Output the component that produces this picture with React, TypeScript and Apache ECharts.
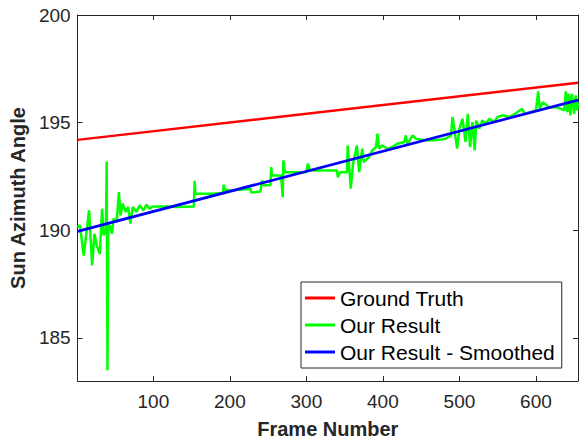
import React, { useEffect, useRef } from "react";
import * as echarts from "echarts";

const xTicks = [100, 200, 300, 400, 500, 600];
const yTicks = [185, 190, 195, 200];

const truthFrames = [1, 655];
const truthAngles = [194.2, 196.85];

const smoothFrames = [1, 655];
const smoothAngles = [189.95, 196.05];

const resultFrames = [
  1, 4, 9, 16, 20, 23, 26, 30, 33, 35, 38, 39, 40, 41, 43, 46, 48, 52, 55, 57, 60, 64, 67, 70, 73, 78, 82, 87, 91, 95,
  100, 117, 131, 153, 154, 155, 179, 191, 192, 193, 201, 227, 228, 240, 242, 244, 253, 254, 255, 267, 269, 270, 272,
  300, 302, 305, 340, 341, 344, 353, 354, 358, 361, 366, 369, 373, 375, 382, 386, 391, 393, 395, 399, 406, 412, 419,
  428, 430, 432, 439, 443, 454, 467, 476, 482, 489, 491, 494, 497, 500, 504, 508, 511, 514, 517, 520, 522, 526, 530,
  535, 539, 545, 550, 556, 565, 571, 582, 585, 593, 600, 603, 605, 609, 617, 626, 632, 637, 639, 641, 643, 645, 647,
  650, 652, 654, 655,
];
const resultAngles = [
  190.15, 190.23, 188.83, 190.93, 188.37, 189.84, 189.3, 188.9, 191.0, 189.76, 190.07, 193.2, 183.5, 190.2, 190.23,
  189.84, 190.54, 190.38, 191.78, 190.69, 191.24, 190.85, 191.08, 190.31, 191.08, 190.85, 191.16, 190.92, 191.19,
  191.0, 191.11, 191.11, 191.08, 191.1, 192.3, 191.7, 191.7, 191.75, 192.12, 191.89, 191.85, 191.93, 191.75, 191.8,
  192.32, 192.09, 192.09, 192.94, 192.55, 192.55, 191.54, 193.25, 192.7, 192.7, 193.09, 192.78, 192.78, 192.47,
  192.7, 192.7, 193.94, 191.93, 193.09, 193.94, 192.7, 193.79, 193.17, 193.4, 193.71, 193.86, 194.49, 193.79,
  193.94, 193.79, 193.86, 194.02, 194.1, 194.41, 194.02, 194.41, 194.25, 194.18, 194.18, 194.22, 194.25, 194.41,
  195.26, 194.56, 193.79, 194.72, 195.18, 194.1, 195.41, 193.86, 195.03, 193.71, 195.1, 194.72, 195.1, 194.95,
  195.18, 195.03, 195.26, 195.34, 195.26, 195.37, 195.65, 195.41, 195.49, 195.57, 196.45, 195.65, 195.95, 195.72,
  195.72, 195.65, 195.57, 196.45, 195.49, 196.34, 195.34, 196.34, 195.41, 196.27, 195.57, 195.95,
];

const zip = (xs: number[], ys: number[]) => xs.map((x, i) => [x, ys[i]]);

const AXIS_COLOR = "#262626";
const FONT = "'Liberation Sans', Arial, Helvetica, sans-serif";

export default function App() {
  const ref = useRef<HTMLDivElement>(null);
  useEffect(() => {
    if (!ref.current) return;
    const chart = echarts.init(ref.current, undefined, { renderer: "svg" });
    const axisLine = { show: true, onZero: false, lineStyle: { color: AXIS_COLOR, width: 1 } };
    const xBase = {
      type: "value" as const,
      min: 1,
      max: 655,
      splitLine: { show: false },
      axisLine,
    };
    const yBase = {
      type: "value" as const,
      min: 183,
      max: 200,
      splitLine: { show: false },
      axisLine,
    };
    chart.setOption({
      animation: false,
      backgroundColor: "#ffffff",
      textStyle: { fontFamily: FONT },
      grid: { left: 77, right: 2, top: 15, bottom: 65, containLabel: false },
      xAxis: [
        {
          ...xBase,
          position: "bottom",
          name: "Frame Number",
          nameLocation: "middle",
          nameGap: 38,
          nameTextStyle: { fontFamily: FONT, fontSize: 20, fontWeight: "bold", color: AXIS_COLOR },
          axisTick: { show: true, inside: true, length: 5, customValues: xTicks, lineStyle: { color: AXIS_COLOR } },
          axisLabel: { show: true, customValues: xTicks, margin: 11, fontFamily: FONT, fontSize: 19, color: AXIS_COLOR },
        },
        {
          ...xBase,
          position: "top",
          axisTick: { show: true, inside: true, length: 5, customValues: xTicks, lineStyle: { color: AXIS_COLOR } },
          axisLabel: { show: false },
        },
      ],
      yAxis: [
        {
          ...yBase,
          position: "left",
          name: "Sun Azimuth Angle",
          nameLocation: "middle",
          nameGap: 46,
          nameTextStyle: { fontFamily: FONT, fontSize: 20, fontWeight: "bold", color: AXIS_COLOR },
          axisTick: { show: true, inside: true, length: 5, customValues: yTicks, lineStyle: { color: AXIS_COLOR } },
          axisLabel: { show: true, customValues: yTicks, margin: 7, fontFamily: FONT, fontSize: 19, color: AXIS_COLOR },
        },
        {
          ...yBase,
          position: "right",
          axisTick: { show: true, inside: true, length: 5, customValues: yTicks, lineStyle: { color: AXIS_COLOR } },
          axisLabel: { show: false },
        },
      ],
      legend: {
        orient: "vertical",
        left: 301,
        top: 282,
        padding: [5, 7, 5, 4],
        itemGap: 5,
        itemWidth: 30,
        itemHeight: 3,
        icon: "rect",
        backgroundColor: "#ffffff",
        borderColor: AXIS_COLOR,
        borderWidth: 1,
        borderRadius: 0,
        textStyle: { fontFamily: FONT, fontSize: 21, color: "#000000", lineHeight: 22 },
        data: ["Ground Truth", "Our Result", "Our Result - Smoothed"],
      },
      series: [
        {
          name: "Ground Truth",
          type: "line",
          xAxisIndex: 0,
          yAxisIndex: 0,
          symbol: "none",
          itemStyle: { color: "#ff0000" },
          lineStyle: { color: "#ff0000", width: 2.5 },
          data: zip(truthFrames, truthAngles),
        },
        {
          name: "Our Result",
          type: "line",
          xAxisIndex: 0,
          yAxisIndex: 0,
          symbol: "none",
          itemStyle: { color: "#00ff00" },
          lineStyle: { color: "#00ff00", width: 2.5 },
          data: zip(resultFrames, resultAngles),
        },
        {
          name: "Our Result - Smoothed",
          type: "line",
          xAxisIndex: 0,
          yAxisIndex: 0,
          symbol: "none",
          itemStyle: { color: "#0000ff" },
          lineStyle: { color: "#0000ff", width: 2.8 },
          data: zip(smoothFrames, smoothAngles),
        },
      ],
    });
    return () => chart.dispose();
  }, []);
  return (
    <div
      ref={ref}
      style={{ position: "fixed", left: 0, top: 0, width: 580, height: 446, background: "#ffffff" }}
    />
  );
}
